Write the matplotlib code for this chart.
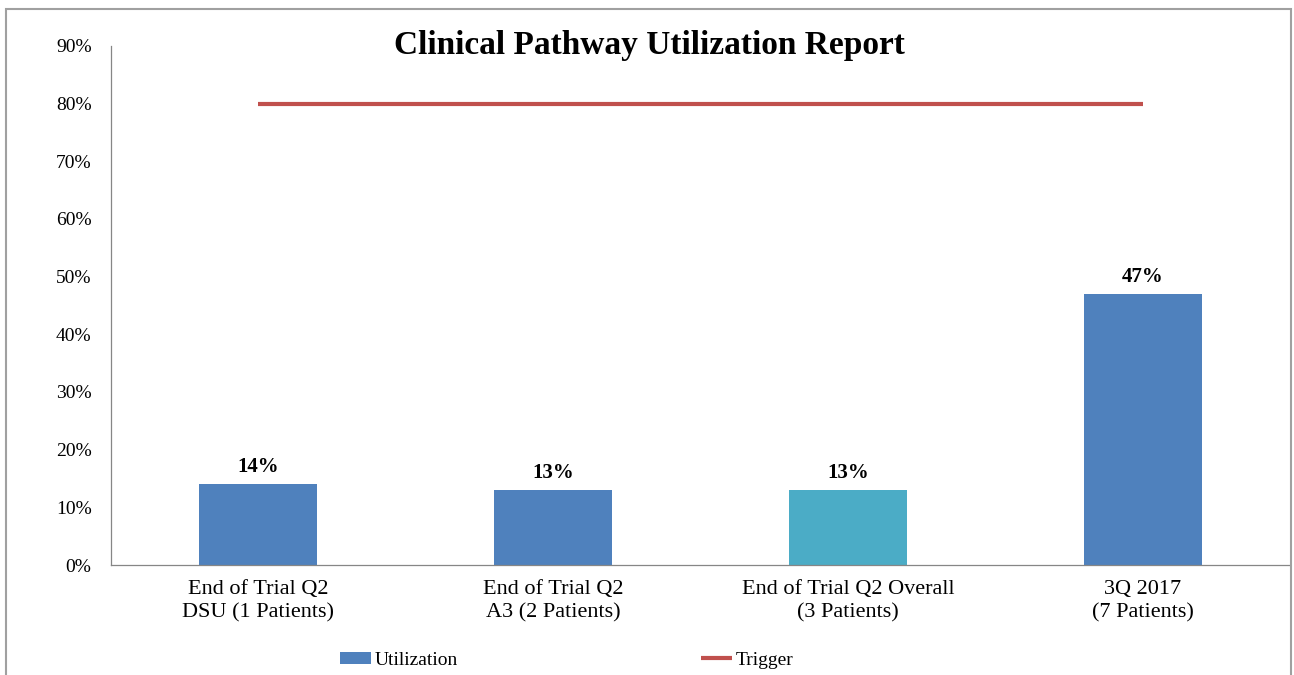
import matplotlib
matplotlib.use("Agg")
import matplotlib.pyplot as plt
from matplotlib.patches import Rectangle
from matplotlib.ticker import PercentFormatter

plt.rcParams["font.family"] = ["Liberation Serif", "DejaVu Serif"]

categories = ["End of Trial Q2\nDSU (1 Patients)", "End of Trial Q2\nA3 (2 Patients)",
              "End of Trial Q2 Overall\n(3 Patients)", "3Q 2017\n(7 Patients)"]
utilization = [0.14, 0.13, 0.13, 0.47]
trigger = [0.80, 0.80, 0.80, 0.80]
bar_colors = ["#4F81BD", "#4F81BD", "#4BACC6", "#4F81BD"]

fig = plt.figure(figsize=(12.94, 6.75), dpi=100)
ax = fig.add_axes([111 / 1294, 1 - 565 / 675, 1179 / 1294, 519 / 675])

x = range(len(categories))
bars = ax.bar(x, utilization, width=0.4, color=bar_colors, label="Utilization", zorder=2)
ax.plot(x, trigger, color="#C0504D", lw=3, label="Trigger", solid_capstyle="butt", zorder=3)

for b, v in zip(bars, utilization):
    ax.annotate(f"{v:.0%}", (b.get_x() + b.get_width() / 2, v), xytext=(0, 5),
                textcoords="offset points", ha="center", va="bottom",
                fontsize=15, fontweight="bold")

ax.set_xlim(-0.5, 3.5)
ax.set_ylim(0, 0.9)
ax.set_yticks([i / 10 for i in range(10)])
ax.yaxis.set_major_formatter(PercentFormatter(1.0, decimals=0))
ax.set_xticks(list(x))
ax.set_xticklabels(categories, fontsize=16, linespacing=1.25)
ax.tick_params(axis="y", length=0, pad=14, labelsize=14)
ax.tick_params(axis="x", length=0, pad=11)
for s in ["top", "right"]:
    ax.spines[s].set_visible(False)
for s in ["left", "bottom"]:
    ax.spines[s].set_color("#868686")
    ax.spines[s].set_linewidth(0.9)

fig.text(0.502, 0.932, "Clinical Pathway Utilization Report", ha="center", va="center",
         fontsize=24, fontweight="bold")

h, l = ax.get_legend_handles_labels()
fig.legend(h[::-1], l[::-1], loc="center", bbox_to_anchor=(0.438, 0.022), ncol=2,
           frameon=False, fontsize=14, handlelength=1.6, handleheight=0.6,
           handletextpad=0.2, columnspacing=12.5)

fig.add_artist(Rectangle((6 / 1294, -0.05), 1285 / 1294, 1.05 - 9 / 675,
                         transform=fig.transFigure, fill=False, edgecolor="#A0A0A0", lw=1.5))

fig.savefig("out.png", dpi=100)
